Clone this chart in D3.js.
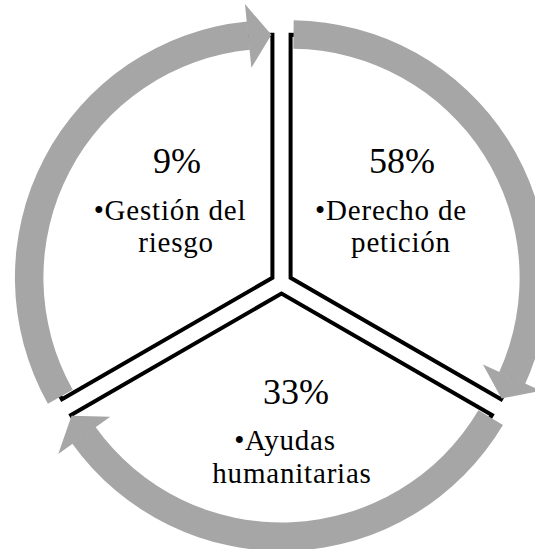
<!DOCTYPE html>
<html>
<head>
<meta charset="utf-8">
<script src="https://cdn.jsdelivr.net/npm/d3@7"></script>
<style>
  html, body { margin: 0; padding: 0; background: #ffffff; }
  svg { display: block; }
</style>
</head>
<body>
<svg id="chart" width="535" height="549"></svg>
<script>
// ---- data ----
const categories = ["Derecho de petición", "Ayudas humanitarias", "Gestión del riesgo"];
const percentLabels = ["58%", "33%", "9%"];
const bulletLine1 = ["•Derecho de", "•Ayudas", "•Gestión del"];
const bulletLine2 = ["petición", "humanitarias", "riesgo"];
const segmentWeights = [1, 1, 1]; // SmartArt segmented cycle: equal segments

// ---- layout ----
const W = 535, H = 549;
const cx = 281.5, cy = 283;
const explode = 10.5;
const R = 243;
const bandIn = 229, bandOut = 257.5;
const headIn = 211, headOut = 275;
const headAng = 0.098;
const gray = "#A6A6A6";
const fontFamily = "'Liberation Serif', 'Times New Roman', serif";

// text placement (relative to center) for each segment
const textLayout = [
  { t: [120.5, -110], l1: [109.5, -63.5], l2: [119.5, -31] },
  { t: [14.5, 121], l1: [3.5, 167], l2: [10.5, 199.5] },
  { t: [-104.5, -110], l1: [-111.5, -63.5], l2: [-105.5, -31] }
];

const svg = d3.select("#chart");
svg.append("rect").attr("width", W).attr("height", H).attr("fill", "#fff");

const pie = d3.pie().sort(null).value(d => d.w);
const arcsData = pie(categories.map((c, i) => ({ name: c, w: segmentWeights[i] })));

const sectorArc = d3.arc().innerRadius(0).outerRadius(R);
const bandArc = d3.arc().innerRadius(bandIn).outerRadius(bandOut);

const g = svg.append("g").attr("transform", `translate(${cx},${cy})`);

const segs = g.selectAll("g.seg").data(arcsData).join("g")
  .attr("class", "seg")
  .attr("transform", d => {
    const mid = (d.startAngle + d.endAngle) / 2;
    return `translate(${explode * Math.sin(mid)},${-explode * Math.cos(mid)})`;
  });

// sectors
segs.append("path")
  .attr("d", d => sectorArc(d))
  .attr("fill", "#fff")
  .attr("stroke", "#000")
  .attr("stroke-width", 4)
  .attr("stroke-linejoin", "miter");

// arrow bodies
segs.append("path")
  .attr("d", d => bandArc({ startAngle: d.startAngle + 0.012, endAngle: d.endAngle - headAng }))
  .attr("fill", gray);

// arrow heads
const pol = (a, r) => [r * Math.sin(a), -r * Math.cos(a)];
segs.append("path")
  .attr("d", d => {
    const b = d.endAngle - headAng - 0.002;
    const p1 = pol(b, headIn), p2 = pol(b, headOut), tip = pol(d.endAngle - 0.004, R);
    return d3.line()([p1, p2, tip]) + "Z";
  })
  .attr("fill", gray);

// texts
const tg = g.selectAll("g.txt").data(arcsData).join("g").attr("class", "txt");
tg.append("text")
  .attr("x", (d, i) => textLayout[i].t[0])
  .attr("y", (d, i) => textLayout[i].t[1])
  .attr("text-anchor", "middle")
  .attr("font-family", fontFamily)
  .attr("font-size", 36)
  .attr("fill", "#000")
  .text((d, i) => percentLabels[i]);

const para = tg.append("text")
  .attr("text-anchor", "middle")
  .attr("font-family", fontFamily)
  .attr("font-size", 29)
  .attr("letter-spacing", 0.8)
  .attr("fill", "#000");
para.append("tspan")
  .attr("x", (d, i) => textLayout[i].l1[0])
  .attr("y", (d, i) => textLayout[i].l1[1])
  .text((d, i) => bulletLine1[i]);
para.append("tspan")
  .attr("x", (d, i) => textLayout[i].l2[0])
  .attr("y", (d, i) => textLayout[i].l2[1])
  .text((d, i) => bulletLine2[i]);
</script>
</body>
</html>
